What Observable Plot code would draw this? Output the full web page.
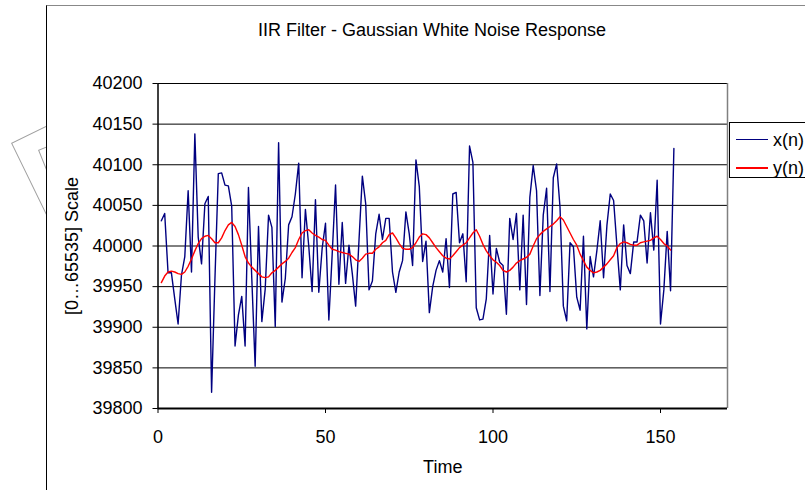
<!DOCTYPE html>
<html>
<head>
<meta charset="utf-8">
<script src="https://cdn.jsdelivr.net/npm/d3@7"></script>
<script src="https://cdn.jsdelivr.net/npm/@observablehq/plot@0.6"></script>
<style>
  html, body { margin: 0; padding: 0; background: #fff; }
  #wrap { position: relative; width: 805px; height: 490px; overflow: hidden; background: #fff;
          font-family: "Liberation Sans", Arial, sans-serif; color: #000; }
  .deco { position: absolute; border: 1.5px solid #a0a0a0; transform-origin: 0 0; background: transparent; }
  #frame { position: absolute; left: 46px; top: 5px; width: 800px; height: 520px;
           border-left: 1px solid #000; border-top: 1px solid #888; background: #fff; }
  #title { position: absolute; left: 46px; width: 772px; top: 21px; text-align: center;
           font-size: 18px; line-height: 18px; white-space: nowrap; }
  #chart { position: absolute; left: 0; top: 0; }
  #legend { position: absolute; left: 729px; top: 122px; width: 100px; height: 56px;
            border: 1px solid #000; background: #fff; box-sizing: border-box; }
  .row { position: absolute; left: 6px; height: 18px; display: flex; align-items: center;
         font-size: 18px; line-height: 18px; white-space: nowrap; }
  .sw { display: inline-block; width: 32px; height: 1.5px; margin-right: 5px; }
</style>
</head>
<body>
<div id="wrap">
  <div class="deco" style="left:11px; top:143px; width:120px; height:220px; transform: rotate(-26deg);"></div>
  <div class="deco" style="left:38px; top:150px; width:80px; height:120px; transform: rotate(-22deg);"></div>
  <div id="frame"></div>
  <div id="title">IIR Filter - Gaussian White Noise Response</div>
  <div id="chart"></div>
  <div id="legend"></div>
</div>
<script>
// ---- data ----
const seriesNames = ["x(n)", "y(n)"];
const seriesColors = ["#000080", "#ff0000"];
const xTicks = [0, 50, 100, 150];
const yTicks = [39800, 39850, 39900, 39950, 40000, 40050, 40100, 40150, 40200];

// x(n): Gaussian white noise input, samples 1..154
const xn = [
  40031, 40040, 39967, 39967, 39935, 39904, 39964, 39987, 40068, 39968,
  40138, 40011, 39978, 40052, 40061, 39820, 39960, 40089, 40090, 40075,
  40074, 40049, 39877, 39915, 39938, 39877, 40072, 39960, 39852, 40024,
  39907, 39947, 40038, 40023, 39901, 40127, 39931, 39960, 40026, 40036,
  40064, 40102, 39961, 40045, 40000, 39944, 40057, 39943, 39997, 40028,
  39909, 39990, 40075, 39953, 40029, 39954, 40001, 39966, 39926, 40007,
  40086, 40052, 39946, 39957, 40015, 40039, 40008, 40034, 40034, 39968,
  39943, 39968, 39982, 40042, 40015, 39976, 40106, 40073, 39981, 40006,
  39918, 39950, 39970, 39982, 39968, 40009, 39949, 40064, 40066, 40004,
  40015, 39956, 40123, 40103, 39924, 39909, 39910, 39935, 40013, 39941,
  39997, 39980, 39976, 39916, 40034, 40008, 40040, 39946, 40038, 39928,
  40060, 40099, 40068, 39939, 40038, 40071, 39944, 40084, 40101, 40048,
  39926, 39908, 40004, 39999, 39937, 39921, 40012, 39898, 39987, 39962,
  39994, 40031, 39961, 40025, 40064, 40056, 40000, 39946, 40026, 39976,
  39966, 40005, 40005, 40038, 40031, 39979, 40041, 39995, 40081, 39904,
  39946, 40018, 39945, 40120
];

// y(n): IIR filter output, samples 1..153
const yn = [
  39955, 39963, 39968, 39969, 39968, 39966, 39965, 39968, 39975, 39984,
  39994, 40003, 40009, 40012, 40013, 40009, 40004, 40004, 40010, 40019,
  40026, 40029, 40024, 40014, 40001, 39987, 39979, 39974, 39970, 39966,
  39962, 39961, 39962, 39967, 39970, 39974, 39978, 39981, 39985, 39992,
  39998, 40008, 40016, 40019, 40020, 40016, 40013, 40011, 40008, 40007,
  40001, 39996, 39995, 39993, 39992, 39991, 39990, 39987, 39983, 39981,
  39985, 39990, 39991, 39991, 39996, 39999, 40004, 40007, 40014, 40016,
  40010, 40003, 39997, 39996, 39996, 39998, 40004, 40011, 40015, 40014,
  40010, 40004, 39998, 39993, 39988, 39985, 39984, 39988, 39993, 39998,
  40001, 40004, 40010, 40016, 40020, 40012, 40002, 39994, 39988, 39983,
  39980, 39976, 39970, 39968, 39970, 39974, 39979, 39982, 39984, 39986,
  39990, 40000, 40009, 40014, 40018, 40021, 40024, 40027, 40031, 40036,
  40032, 40024, 40016, 40008, 40001, 39990, 39982, 39974, 39970, 39967,
  39968, 39970, 39974, 39978, 39983, 39988, 39998, 40003, 40005, 40004,
  40002, 40001, 40001, 40004, 40005, 40006, 40007, 40010, 40012, 40008,
  40003, 40000, 39995
];

// ---- table for Plot ----
const rows = [
  ...xn.map((v, i) => ({time: i + 1, value: v, series: seriesNames[0]})),
  ...yn.map((v, i) => ({time: i + 1, value: v, series: seriesNames[1]}))
];

const chart = Plot.plot({
  width: 805,
  height: 490,
  marginLeft: 157.5,
  marginRight: 78,
  marginTop: 83,
  marginBottom: 82,
  style: {background: "transparent", fontFamily: "'Liberation Sans', Arial, sans-serif", fontSize: "18px", color: "#000", overflow: "visible"},
  x: {domain: [0, 170]},
  y: {domain: [39800, 40200]},
  color: {domain: seriesNames, range: seriesColors},
  marks: [
    Plot.gridY(yTicks, {stroke: "#000", strokeOpacity: 1, strokeWidth: 1}),
    Plot.ruleX([170], {stroke: "#808080", strokeWidth: 1.5}),
    Plot.line(rows, {x: "time", y: "value", z: "series", stroke: "series", strokeWidth: 1.4}),
    Plot.ruleY([39800], {stroke: "#000", strokeWidth: 2}),
    Plot.ruleX([0], {stroke: "#000", strokeWidth: 1.5}),
    Plot.axisX({ticks: xTicks, tickSize: 5, tickPadding: 17, tickFormat: d => String(d),
                label: "Time", labelAnchor: "center", labelOffset: 64.5, labelArrow: "none"}),
    Plot.axisY({ticks: yTicks, tickSize: 5, tickPadding: 10.5, tickFormat: d => String(d),
                label: "[0…65535] Scale", labelAnchor: "center", labelOffset: 93, labelArrow: "none"})
  ]
});
document.getElementById("chart").appendChild(chart);

// ---- legend ----
const legend = document.getElementById("legend");
seriesNames.forEach((name, i) => {
  const row = document.createElement("div");
  row.className = "row";
  row.style.top = (7.5 + i * 28.4) + "px";
  const sw = document.createElement("span");
  sw.className = "sw";
  sw.style.background = seriesColors[i];
  const tx = document.createElement("span");
  tx.textContent = name;
  row.appendChild(sw);
  row.appendChild(tx);
  legend.appendChild(row);
});
</script>
</body>
</html>
